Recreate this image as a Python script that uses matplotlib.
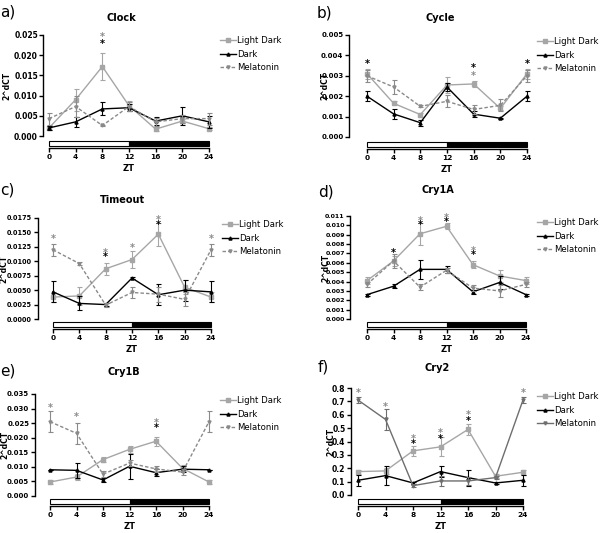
"""Clock gene expression across ZT, six-panel figure (a-f)."""

import matplotlib
matplotlib.use("Agg")
import matplotlib.pyplot as plt
from matplotlib.patches import Rectangle

plt.rcParams["font.family"] = ["DejaVu Sans"]

# ============================================================
# Data
# ============================================================

ZT = [0, 4, 8, 12, 16, 20, 24]
SERIES = ["Light Dark", "Dark", "Melatonin"]

CLOCK_LD = [0.0020, 0.0090, 0.0172, 0.0075, 0.0017, 0.0037, 0.0018]
CLOCK_LD_ERR = [0.0004, 0.0027, 0.0034, 0.0012, 0.0005, 0.0005, 0.0004]
CLOCK_DK = [0.0020, 0.0035, 0.0067, 0.0070, 0.0037, 0.0050, 0.0035]
CLOCK_DK_ERR = [0.0004, 0.0012, 0.0016, 0.0008, 0.0009, 0.0023, 0.0015]
CLOCK_MEL = [0.0043, 0.0073, 0.0026, 0.0073, 0.0035, 0.0043, 0.0043]
CLOCK_MEL_ERR = [0.0015, 0.0027, 0.0002, 0.0012, 0.0010, 0.0010, 0.0015]
CLOCK_STARS = [(8, 0.0245, "gray"), (8, 0.0228, "black")]

CYCLE_LD = [0.0031, 0.00165, 0.0011, 0.00255, 0.0026, 0.0014, 0.0031]
CYCLE_LD_ERR = [0.00025, 0.0001, 0.0001, 0.0004, 0.00015, 0.0001, 0.00025]
CYCLE_DK = [0.0020, 0.00113, 0.0007, 0.00245, 0.00112, 0.00092, 0.0020]
CYCLE_DK_ERR = [0.00025, 0.00025, 0.00015, 0.0002, 0.00015, 0.00003, 0.00025]
CYCLE_MEL = [0.0030, 0.00245, 0.0015, 0.00175, 0.00135, 0.00155, 0.0030]
CYCLE_MEL_ERR = [0.0003, 0.00035, 0.00005, 0.0003, 0.0002, 0.0003, 0.0003]
CYCLE_STARS = [(0, 0.0036, "black"), (16, 0.0034, "black"),
               (16, 0.0030, "gray"), (24, 0.0036, "black")]

TIMEOUT_LD = [0.0038, 0.0040, 0.0087, 0.0103, 0.0147, 0.0055, 0.0038]
TIMEOUT_LD_ERR = [0.0008, 0.0015, 0.0010, 0.0015, 0.0020, 0.0012, 0.0008]
TIMEOUT_DK = [0.0047, 0.0027, 0.0025, 0.0071, 0.0042, 0.0050, 0.0047]
TIMEOUT_DK_ERR = [0.0018, 0.0012, 0.0003, 0.0001, 0.0018, 0.0018, 0.0018]
TIMEOUT_MEL = [0.0120, 0.0096, 0.0024, 0.0046, 0.0043, 0.0034, 0.0120]
TIMEOUT_MEL_ERR = [0.0010, 0.0003, 0.0004, 0.0010, 0.0013, 0.0012, 0.0010]
TIMEOUT_STARS = [(0, 0.0138, "gray"), (8, 0.0115, "gray"), (8, 0.0107, "black"),
                 (12, 0.0123, "gray"), (16, 0.0172, "gray"),
                 (16, 0.0163, "black"), (24, 0.0138, "gray")]

CRY1A_LD = [0.0041, 0.0062, 0.0091, 0.0099, 0.0058, 0.0046, 0.0041]
CRY1A_LD_ERR = [0.0004, 0.0005, 0.0012, 0.0003, 0.0004, 0.0006, 0.0004]
CRY1A_DK = [0.0026, 0.0035, 0.0053, 0.0053, 0.0029, 0.0039, 0.0026]
CRY1A_DK_ERR = [0.0001, 0.0002, 0.0010, 0.0004, 0.0002, 0.0007, 0.0001]
CRY1A_MEL = [0.0037, 0.0062, 0.0034, 0.0052, 0.0033, 0.0030, 0.0037]
CRY1A_MEL_ERR = [0.0003, 0.0007, 0.0003, 0.0003, 0.0003, 0.0006, 0.0003]
CRY1A_STARS = [(4, 0.0071, "black"), (8, 0.0105, "gray"), (8, 0.0100, "black"),
               (12, 0.0108, "gray"), (12, 0.0104, "black"),
               (16, 0.0073, "gray"), (16, 0.0068, "black")]

CRY1B_LD = [0.0048, 0.0065, 0.0125, 0.0160, 0.0188, 0.0095, 0.0048]
CRY1B_LD_ERR = [0.0006, 0.0010, 0.0010, 0.0012, 0.0015, 0.0010, 0.0006]
CRY1B_DK = [0.0090, 0.0088, 0.0055, 0.0102, 0.0080, 0.0092, 0.0090]
CRY1B_DK_ERR = [0.0, 0.0025, 0.0008, 0.0042, 0.0012, 0.0010, 0.0]
CRY1B_MEL = [0.0255, 0.0215, 0.0075, 0.0113, 0.0093, 0.0082, 0.0255]
CRY1B_MEL_ERR = [0.0035, 0.0035, 0.0010, 0.0010, 0.0010, 0.0010, 0.0035]
CRY1B_STARS = [(0, 0.0303, "gray"), (4, 0.0270, "gray"),
               (16, 0.0250, "gray"), (16, 0.0233, "black")]

CRY2_LD = [0.175, 0.18, 0.33, 0.36, 0.49, 0.14, 0.17]
CRY2_LD_ERR = [0.015, 0.02, 0.035, 0.07, 0.04, 0.015, 0.02]
CRY2_DK = [0.11, 0.145, 0.09, 0.175, 0.13, 0.09, 0.11]
CRY2_DK_ERR = [0.04, 0.07, 0.01, 0.04, 0.06, 0.005, 0.04]
CRY2_MEL = [0.71, 0.565, 0.07, 0.105, 0.105, 0.13, 0.71]
CRY2_MEL_ERR = [0.02, 0.08, 0.01, 0.04, 0.03, 0.01, 0.02]
CRY2_STARS = [(0, 0.76, "gray"), (4, 0.66, "gray"), (8, 0.42, "gray"),
              (8, 0.38, "black"), (12, 0.46, "gray"), (12, 0.42, "black"),
              (16, 0.595, "gray"), (16, 0.555, "black"), (24, 0.76, "gray")]

# ============================================================
# Layout (pixel geometry of each panel)
# ============================================================

W, H = 600, 533
LD_COLOR = "#a6a6a6"
MEL_COLOR = "#8a8a8a"

PANELS = [
    dict(letter="a)", title="Clock", data=(CLOCK_LD, CLOCK_LD_ERR, CLOCK_DK, CLOCK_DK_ERR, CLOCK_MEL, CLOCK_MEL_ERR),
         stars=CLOCK_STARS, ymax=0.025, step=0.005, fmt="{:.3f}", tick_fs=5.5,
         x0=49, x1=209, ytop=35, y0=136, offset=4, bar=(141, 148),
         letter_xy=(0, 12), title_xy=(121, 18), ylab_x=7, leg_xy=(220, 36), mel_dashed=True),
    dict(letter="b)", title="Cycle", data=(CYCLE_LD, CYCLE_LD_ERR, CYCLE_DK, CYCLE_DK_ERR, CYCLE_MEL, CYCLE_MEL_ERR),
         stars=CYCLE_STARS, ymax=0.005, step=0.001, fmt="{:.3f}", tick_fs=5.0,
         x0=367, x1=527, ytop=35, y0=137, offset=13, bar=(142, 149),
         letter_xy=(317, 13), title_xy=(440, 18), ylab_x=325, leg_xy=(537, 37), mel_dashed=True),
    dict(letter="c)", title="Timeout", data=(TIMEOUT_LD, TIMEOUT_LD_ERR, TIMEOUT_DK, TIMEOUT_DK_ERR, TIMEOUT_MEL, TIMEOUT_MEL_ERR),
         stars=TIMEOUT_STARS, ymax=0.0175, step=0.0025, fmt="{:.4f}", tick_fs=4.7,
         x0=53, x1=211, ytop=218, y0=319, offset=11, bar=(322, 329),
         letter_xy=(0, 190), title_xy=(122, 200), ylab_x=4, leg_xy=(222, 220), mel_dashed=True),
    dict(letter="d)", title="Cry1A", data=(CRY1A_LD, CRY1A_LD_ERR, CRY1A_DK, CRY1A_DK_ERR, CRY1A_MEL, CRY1A_MEL_ERR),
         stars=CRY1A_STARS, ymax=0.011, step=0.001, fmt="{:.3f}", tick_fs=4.5,
         x0=367, x1=526, ytop=216, y0=319, offset=12, bar=(322, 329),
         letter_xy=(318, 192), title_xy=(438, 190), ylab_x=326, leg_xy=(537, 218), mel_dashed=True),
    dict(letter="e)", title="Cry1B", data=(CRY1B_LD, CRY1B_LD_ERR, CRY1B_DK, CRY1B_DK_ERR, CRY1B_MEL, CRY1B_MEL_ERR),
         stars=CRY1B_STARS, ymax=0.035, step=0.005, fmt="{:.3f}", tick_fs=5.0,
         x0=50, x1=209, ytop=394, y0=496, offset=11, bar=(499, 506),
         letter_xy=(0, 371), title_xy=(124, 372), ylab_x=5, leg_xy=(220, 396), mel_dashed=True),
    dict(letter="f)", title="Cry2", data=(CRY2_LD, CRY2_LD_ERR, CRY2_DK, CRY2_DK_ERR, CRY2_MEL, CRY2_MEL_ERR),
         stars=CRY2_STARS, ymax=0.8, step=0.1, fmt="{:.1f}", tick_fs=5.5,
         x0=358, x1=523, ytop=388, y0=495, offset=5, bar=(499, 506),
         letter_xy=(318, 367), title_xy=(437, 368), ylab_x=331, leg_xy=(537, 392), mel_dashed=False),
]

fig = plt.figure(figsize=(W / 100, H / 100), dpi=100)


def px_axes(x0, x1, ytop, ybot):
    return fig.add_axes([x0 / W, 1 - ybot / H, (x1 - x0) / W, (ybot - ytop) / H])


def draw_panel(p):
    ld, ld_err, dk, dk_err, mel, mel_err = p["data"]
    ax = px_axes(p["x0"], p["x1"], p["ytop"], p["y0"])
    # spine offset first: set_position resets tick label styling
    for side in ("top", "right", "bottom"):
        ax.spines[side].set_visible(False)
    ax.spines["left"].set_position(("outward", p["offset"]))
    ax.spines["left"].set_linewidth(1.0)

    mel_style = dict(color=MEL_COLOR, ls=(0, (2.5, 1.5))) if p["mel_dashed"] else dict(color="#6e6e6e", ls="-")
    styles = [
        (ld, ld_err, dict(color=LD_COLOR, ls="-"), "s"),
        (dk, dk_err, dict(color="black", ls="-"), "^"),
        (mel, mel_err, mel_style, "v"),
    ]
    for (mean, err, st, marker), name in zip(styles, SERIES):
        ax.errorbar(ZT, mean, yerr=err, fmt="none", ecolor=st["color"],
                    elinewidth=0.8, capsize=1.8, capthick=0.8, clip_on=False)
        ax.plot(ZT, mean, marker=marker, ms=2.2, lw=1.0, clip_on=False,
                label=name, **st)

    for x, y, c in p["stars"]:
        ax.text(x, y, "*", ha="center", va="center", fontsize=7,
                fontweight="bold", color=c if c == "black" else "#8a8a8a")

    ax.set_xlim(0, 24)
    ax.set_ylim(0, p["ymax"])
    n = int(round(p["ymax"] / p["step"]))
    ticks = [i * p["step"] for i in range(n + 1)]
    ax.set_yticks(ticks)
    ax.set_yticklabels([p["fmt"].format(t) for t in ticks], fontsize=p["tick_fs"], fontweight="bold")
    ax.set_xticks([])
    ax.tick_params(axis="y", length=3, width=1.0, pad=1)
    ax.patch.set_visible(False)

    ax.legend(loc="upper left", bbox_to_anchor=(p["leg_xy"][0] / W, 1 - p["leg_xy"][1] / H),
              bbox_transform=fig.transFigure, frameon=False, fontsize=6.1,
              handlelength=1.9, handletextpad=0.15, labelspacing=0.55,
              borderpad=0, borderaxespad=0)

    # light / dark bar acting as the x axis
    bar_top, bar_bot = p["bar"]
    bx = px_axes(p["x0"], p["x1"], bar_top, bar_bot)
    bx.set_xlim(0, 24)
    bx.set_ylim(0, 1)
    bx.add_patch(Rectangle((0, 0.3), 12, 0.7, fc="white", ec="black", lw=0.8, clip_on=False))
    bx.add_patch(Rectangle((12, 0.3), 12, 0.7, fc="black", ec="black", lw=0.8, clip_on=False))
    for side in ("top", "right", "left"):
        bx.spines[side].set_visible(False)
    bx.spines["bottom"].set_linewidth(1.0)
    bx.set_yticks([])
    bx.set_xticks(ZT)
    bx.set_xticklabels([str(z) for z in ZT], fontsize=5.3, fontweight="bold")
    bx.tick_params(axis="x", length=3, width=1.0, pad=1)
    bx.set_xlabel("ZT", fontsize=6, fontweight="bold", labelpad=3)
    bx.patch.set_visible(False)

    fig.text(p["letter_xy"][0] / W, 1 - p["letter_xy"][1] / H, p["letter"],
             fontsize=11, ha="left", va="center")
    fig.text(p["title_xy"][0] / W, 1 - p["title_xy"][1] / H, p["title"],
             fontsize=7, fontweight="bold", ha="center", va="center")
    ymid = (p["ytop"] + p["y0"]) / 2
    fig.text(p["ylab_x"] / W, 1 - ymid / H, "2^dCT", rotation=90,
             fontsize=5.5, fontweight="bold", ha="center", va="center")


for panel in PANELS:
    draw_panel(panel)

fig.savefig("out.png", dpi=100)
